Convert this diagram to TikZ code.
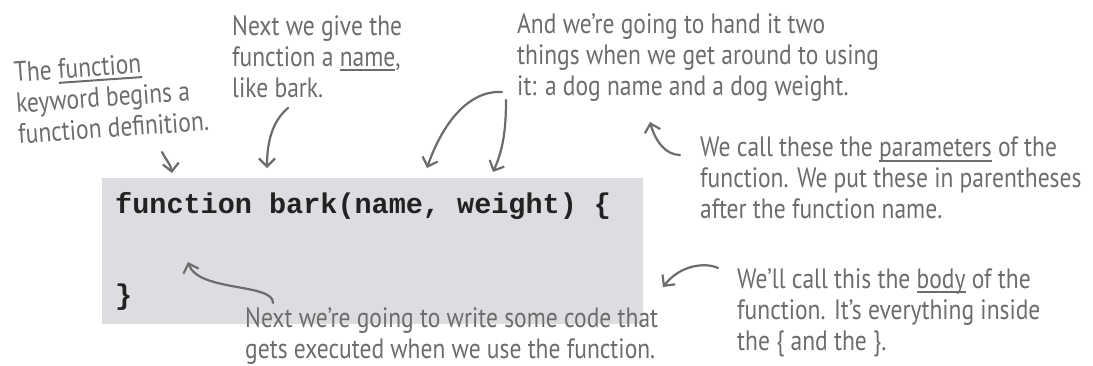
\documentclass[tikz,border=0pt]{standalone}
\usepackage{fontspec}
\usepackage{tikz}
\usetikzlibrary{arrows.meta}
\newfontfamily\handfont[FakeStretch=0.84]{PT Sans}
\newfontfamily\codefont{Liberation Mono}
\definecolor{notegray}{RGB}{108,108,108}
\definecolor{boxgray}{RGB}{220,221,224}
\definecolor{codeblack}{RGB}{34,34,34}
\newcommand\handul[1]{\setbox0\hbox{#1}\rlap{\vrule width\wd0 height -3pt depth 5pt}\box0\relax}

\begin{document}
\begin{tikzpicture}[x=1pt,y=-1pt,>={Straight Barb[length=8pt,width=16pt]}]
  \tikzset{
    note/.style={anchor=north west,inner sep=0pt,align=left,text=notegray,
      font=\handfont\fontsize{28}{31}\selectfont},
    codeline/.style={anchor=base west,inner sep=0pt,text=codeblack,
      font=\codefont\bfseries\fontsize{28.5}{32}\selectfont},
    codebox/.style={fill=boxgray,minimum width=541pt,minimum height=146pt,inner sep=0pt},
    hand/.style={draw=notegray,line width=2.2pt,line cap=round,->},
  }
  \useasboundingbox (0,0) rectangle (1093,365);

  % the code block
  \node[codebox] (box) at (372.5,251) {};
  \node[codeline] (sig) at (115,213) {function bark(name, weight) \{};
  \node[codeline] (closing) at (115,304) {\}};

  % the notes
  \node[note,rotate=4] (kwnote) at (13,62) {The \handul{function}\\keyword begins a\\function definition.};
  \node[note] (namenote) at (232,15) {Next we give the\\function a \handul{name},\\like bark.};
  \node[note] (argsnote) at (517,13) {And we’re going to hand it two\\things when we get around to using\\it: a dog name and a dog weight.};
  \node[note] (paramnote) at (700,137) {We call these the \handul{parameters} of the\\function. We put these in parentheses\\after the function name.};
  \node[note] (bodynote) at (737,268) {We’ll call this the \handul{body} of the\\function. It’s everything inside\\the \{ and the \}.};
  \node[note] (codenote) at (245,307) {Next we’re going to write some code that\\gets executed when we use the function.};

  % arrow ends
  \coordinate (kwtail) at (162,152);   \coordinate (kwtip) at (172,173);
  \coordinate (nametail) at (288,108); \coordinate (nametip) at (267,168);
  \coordinate (argtail) at (502,92);   \coordinate (argtip) at (427,168);
  \coordinate (wttail) at (506,100);   \coordinate (wttip) at (493,172);
  \coordinate (partail) at (680,155);  \coordinate (partip) at (650,122);
  \coordinate (bodytail) at (718,268); \coordinate (bodytip) at (663,287);
  \coordinate (codetail) at (273,303); \coordinate (codetip) at (188,262);

  \draw[hand] (kwtail) .. controls (166,160) and (171,165) .. (kwtip);
  \draw[hand] (nametail) .. controls (276,118) and (267,135) .. (nametip);
  \draw[hand] (argtail) .. controls (465,90) and (440,130) .. (argtip);
  \draw[hand] (wttail) .. controls (506,130) and (503,150) .. (wttip);
  \draw[hand] (partail) .. controls (665,155) and (655,140) .. (partip);
  \draw[hand] (bodytail) .. controls (705,262) and (680,265) .. (bodytip);
  \draw[hand] (codetail) .. controls (274,283) and (198,292) .. (codetip);
\end{tikzpicture}
\end{document}
